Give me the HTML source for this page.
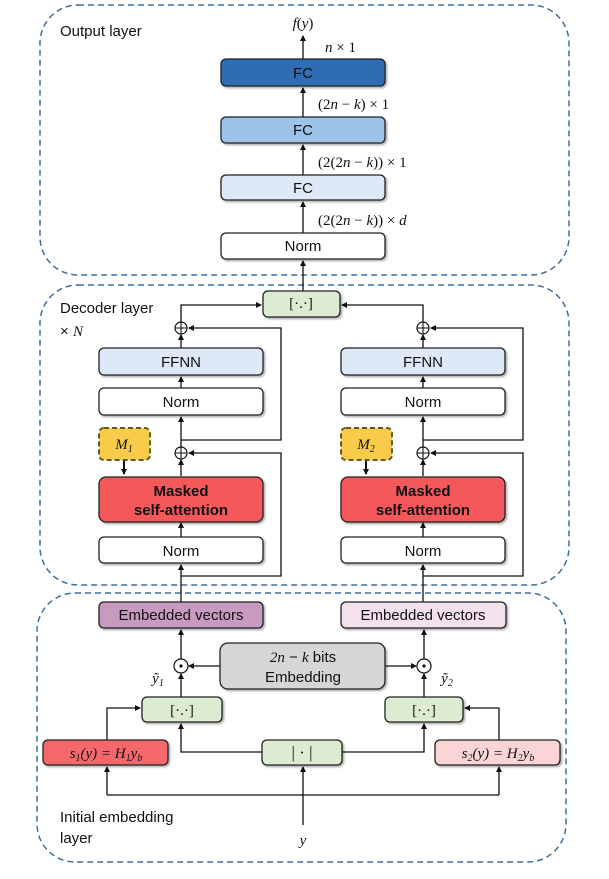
<!DOCTYPE html>
<html><head><meta charset="utf-8"><style>
html,body{margin:0;padding:0;background:#fff}
svg{display:block}
.t{font-family:"Liberation Sans",sans-serif;font-size:15px;fill:#111}
.m{font-family:"Liberation Serif",serif;font-size:15px;fill:#111}
.i{font-style:italic}
</style></head><body>
<svg width="609" height="879" viewBox="0 0 609 879" xmlns="http://www.w3.org/2000/svg">
<defs>
<marker id="a" markerWidth="6" markerHeight="6" refX="5" refY="3" orient="auto" markerUnits="userSpaceOnUse"><path d="M0,0 L6,3 L0,6z" fill="#111"/></marker>
<filter id="s" x="-10%" y="-10%" width="130%" height="140%"><feDropShadow dx="1.5" dy="1.5" stdDeviation="1" flood-color="#000" flood-opacity="0.35"/></filter>
</defs>
<g fill="none" stroke="#3f6fa0" stroke-width="1.5" stroke-dasharray="6,4">
<rect x="40" y="5" width="529" height="270" rx="38"/>
<rect x="40" y="285" width="529" height="300" rx="38"/>
<rect x="37" y="593" width="529" height="269" rx="38"/>
</g>
<g stroke="#111" stroke-width="1.3" fill="none">
<line x1="303" y1="291" x2="303" y2="261" marker-end="url(#a)"/>
<line x1="303" y1="233" x2="303" y2="202" marker-end="url(#a)"/>
<line x1="303" y1="175" x2="303" y2="145" marker-end="url(#a)"/>
<line x1="303" y1="117" x2="303" y2="88" marker-end="url(#a)"/>
<line x1="303" y1="59" x2="303" y2="36" marker-end="url(#a)"/>
<line x1="181" y1="602" x2="181" y2="565" marker-end="url(#a)"/>
<line x1="181" y1="537" x2="181" y2="523" marker-end="url(#a)"/>
<line x1="181" y1="476" x2="181" y2="460" marker-end="url(#a)"/>
<line x1="181" y1="447" x2="181" y2="417" marker-end="url(#a)"/>
<line x1="181" y1="388" x2="181" y2="377" marker-end="url(#a)"/>
<line x1="181" y1="348" x2="181" y2="335" marker-end="url(#a)"/>
<polyline points="181,576 281,576 281,453 189,453" marker-end="url(#a)"/>
<polyline points="181,440 281,440 281,328 189,328" marker-end="url(#a)"/>
<polyline points="181,322 181,305 261,305" marker-end="url(#a)"/>
<line x1="124" y1="460" x2="124" y2="474" stroke-width="2" marker-end="url(#a)"/>
<line x1="423" y1="602" x2="423" y2="565" marker-end="url(#a)"/>
<line x1="423" y1="537" x2="423" y2="523" marker-end="url(#a)"/>
<line x1="423" y1="476" x2="423" y2="460" marker-end="url(#a)"/>
<line x1="423" y1="447" x2="423" y2="417" marker-end="url(#a)"/>
<line x1="423" y1="388" x2="423" y2="377" marker-end="url(#a)"/>
<line x1="423" y1="348" x2="423" y2="335" marker-end="url(#a)"/>
<polyline points="423,576 523,576 523,453 431,453" marker-end="url(#a)"/>
<polyline points="423,440 523,440 523,328 431,328" marker-end="url(#a)"/>
<polyline points="423,322 423,305 342,305" marker-end="url(#a)"/>
<line x1="366" y1="460" x2="366" y2="474" stroke-width="2" marker-end="url(#a)"/>
<line x1="181" y1="659" x2="181" y2="630" marker-end="url(#a)"/>
<line x1="424" y1="659" x2="424" y2="630" marker-end="url(#a)"/>
<line x1="181" y1="697" x2="181" y2="674" marker-end="url(#a)"/>
<line x1="424" y1="697" x2="424" y2="674" marker-end="url(#a)"/>
<line x1="220" y1="666" x2="189" y2="666" marker-end="url(#a)"/>
<line x1="385" y1="666" x2="416" y2="666" marker-end="url(#a)"/>
<polyline points="107,740 107,708 140,708" marker-end="url(#a)"/>
<polyline points="499,740 499,708 465,708" marker-end="url(#a)"/>
<polyline points="262,752 181,752 181,724" marker-end="url(#a)"/>
<polyline points="342,752 424,752 424,724" marker-end="url(#a)"/>
<line x1="303" y1="825" x2="303" y2="767" marker-end="url(#a)"/>
<polyline points="107,795 499,795"/>
<line x1="107" y1="795" x2="107" y2="767" marker-end="url(#a)"/>
<line x1="499" y1="795" x2="499" y2="767" marker-end="url(#a)"/>
</g>
<g stroke="#111" stroke-width="1.2" fill="#fff">
<circle cx="181" cy="328" r="6"/><circle cx="181" cy="453" r="6"/>
<circle cx="423" cy="328" r="6"/><circle cx="423" cy="453" r="6"/>
<circle cx="181" cy="666" r="7"/><circle cx="424" cy="666" r="7"/>
</g>
<g stroke="#111" stroke-width="1.1">
<path d="M175,328h12M181,322v12M175,453h12M181,447v12M417,328h12M423,322v12M417,453h12M423,447v12"/>
</g>
<circle cx="181" cy="666" r="1.6" fill="#111"/><circle cx="424" cy="666" r="1.6" fill="#111"/>
<g stroke="#222" stroke-width="1.3" filter="url(#s)">
<rect x="221" y="59" width="164" height="27" rx="5" fill="#2e6db4"/>
<rect x="221" y="117" width="164" height="26" rx="5" fill="#9cc3e8"/>
<rect x="221" y="175" width="164" height="25" rx="5" fill="#dde9f6"/>
<rect x="221" y="233" width="164" height="26" rx="5" fill="#fff"/>
<rect x="263" y="291" width="77" height="26" rx="5" fill="#dcecd2"/>
<rect x="99" y="348" width="164" height="27" rx="5" fill="#dde9f6"/>
<rect x="99" y="388" width="164" height="27" rx="5" fill="#fff"/>
<rect x="99" y="477" width="164" height="45" rx="7" fill="#f5585a"/>
<rect x="99" y="537" width="164" height="26" rx="5" fill="#fff"/>
<rect x="341" y="348" width="164" height="27" rx="5" fill="#dde9f6"/>
<rect x="341" y="388" width="164" height="27" rx="5" fill="#fff"/>
<rect x="341" y="477" width="164" height="45" rx="7" fill="#f5585a"/>
<rect x="341" y="537" width="164" height="26" rx="5" fill="#fff"/>
<rect x="99" y="602" width="164" height="26" rx="5" fill="#c99ac0"/>
<rect x="341" y="602" width="165" height="26" rx="5" fill="#f3e1ee"/>
<rect x="220" y="643" width="165" height="46" rx="8" fill="#d6d6d6"/>
<rect x="142" y="697" width="80" height="25" rx="5" fill="#dcecd2"/>
<rect x="385" y="697" width="78" height="25" rx="5" fill="#dcecd2"/>
<rect x="43" y="740" width="125" height="25" rx="5" fill="#f4676c"/>
<rect x="262" y="740" width="80" height="25" rx="5" fill="#dcecd2"/>
<rect x="435" y="740" width="125" height="25" rx="5" fill="#fad4d6"/>
</g>
<g stroke="#6a5a20" stroke-width="2" stroke-dasharray="5,3" fill="#f8cc4a">
<rect x="99" y="428" width="51" height="32" rx="5"/>
<rect x="341" y="428" width="51" height="32" rx="5"/>
</g>
<g class="t" text-anchor="middle">
<text x="303" y="78">FC</text><text x="303" y="135">FC</text><text x="303" y="193">FC</text><text x="303" y="251">Norm</text>
<text x="181" y="367">FFNN</text><text x="181" y="407">Norm</text><text x="181" y="556">Norm</text>
<text x="423" y="367">FFNN</text><text x="423" y="407">Norm</text><text x="423" y="556">Norm</text>
<text x="181" y="496" font-weight="bold">Masked</text><text x="181" y="515" font-weight="bold">self-attention</text>
<text x="423" y="496" font-weight="bold">Masked</text><text x="423" y="515" font-weight="bold">self-attention</text>
<text x="181" y="620">Embedded vectors</text><text x="423" y="620">Embedded vectors</text>
<text x="303" y="662"><tspan class="m i">2n</tspan> − <tspan class="m i">k</tspan> bits</text>
<text x="303" y="682">Embedding</text>
</g>
<g class="t" font-size="15">
<text x="60" y="36">Output layer</text>
<text x="60" y="313">Decoder layer</text>
<text x="60" y="336">× <tspan class="m i">N</tspan></text>
<text x="60" y="822">Initial embedding</text>
<text x="60" y="843">layer</text>
</g>
<g class="m" text-anchor="middle">
<text x="182" y="715">[·.·]</text><text x="424" y="715">[·.·]</text>
<text x="302" y="758" font-size="17">| · |</text>
<text x="106" y="758" class="i">s<tspan font-size="10" dy="3">1</tspan><tspan dy="-3">(y) = H</tspan><tspan font-size="10" dy="3">1</tspan><tspan dy="-3">y</tspan><tspan font-size="10" dy="3">b</tspan></text>
<text x="498" y="758" class="i">s<tspan font-size="10" dy="3">2</tspan><tspan dy="-3">(y) = H</tspan><tspan font-size="10" dy="3">2</tspan><tspan dy="-3">y</tspan><tspan font-size="10" dy="3">b</tspan></text>
<text x="124" y="449" class="i">M<tspan font-size="10" dy="3">1</tspan></text>
<text x="366" y="449" class="i">M<tspan font-size="10" dy="3">2</tspan></text>
<text x="158" y="683" class="i">ỹ<tspan font-size="10" dy="3">1</tspan></text>
<text x="447" y="683" class="i">ỹ<tspan font-size="10" dy="3">2</tspan></text>
<text x="303" y="845" class="i">y</text>
<text x="303" y="28"><tspan class="i">f</tspan>(<tspan class="i">y</tspan>)</text>
</g>
<text x="301" y="308" class="m" text-anchor="middle">[·.·]</text>
<g class="m">
<text x="325" y="52"><tspan class="i">n</tspan> × 1</text>
<text x="318" y="109">(2<tspan class="i">n</tspan> − <tspan class="i">k</tspan>) × 1</text>
<text x="318" y="167">(2(2<tspan class="i">n</tspan> − <tspan class="i">k</tspan>)) × 1</text>
<text x="318" y="225">(2(2<tspan class="i">n</tspan> − <tspan class="i">k</tspan>)) × <tspan class="i">d</tspan></text>
</g>
</svg>
</body></html>
